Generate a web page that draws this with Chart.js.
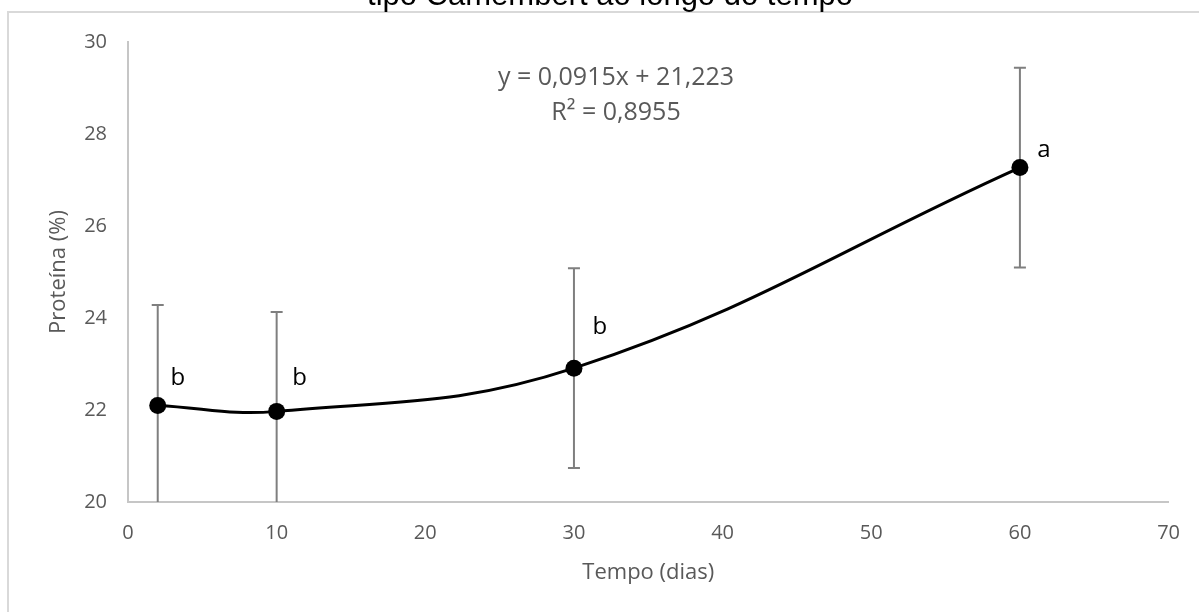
<!DOCTYPE html>
<html>
<head>
<meta charset="utf-8">
<script src="https://cdn.jsdelivr.net/npm/chart.js@4.4.1/dist/chart.umd.min.js"></script>
<style>
  html, body { margin: 0; padding: 0; background: #ffffff; }
  canvas { display: block; }
</style>
</head>
<body>
<canvas id="c" width="1199" height="612"></canvas>
<script>
// ---- data ----
const titleText = 'tipo Camembert ao longo do tempo';
const days = [2, 10, 30, 60];
const protein = [22.1, 21.97, 22.91, 27.27];
const errors = [2.18, 2.16, 2.17, 2.17];
const letters = ['b', 'b', 'b', 'a'];
const equationLines = ['y = 0,0915x + 21,223', 'R² = 0,8955'];
const xAxisTitle = 'Tempo (dias)';
const yAxisTitle = 'Proteína (%)';

// ---- styling (pixel offsets for the letter labels) ----
const letterOffsets = [[20, -27], [23, -33], [26, -41], [24, -17]];

const grayText = '#595959';

const decorPlugin = {
  id: 'decor',
  beforeDraw(chart) {
    const ctx = chart.ctx;
    ctx.save();
    ctx.fillStyle = '#ffffff';
    ctx.fillRect(0, 0, chart.width, chart.height);
    // outer chart border
    ctx.strokeStyle = '#d9d9d9';
    ctx.lineWidth = 2;
    ctx.beginPath();
    ctx.moveTo(8, chart.height + 5);
    ctx.lineTo(8, 12);
    ctx.lineTo(chart.width + 5, 12);
    ctx.stroke();
    // title (partially cut at the top)
    ctx.fillStyle = '#000000';
    ctx.font = '31px "Liberation Sans", Arial, sans-serif';
    ctx.textAlign = 'center';
    ctx.textBaseline = 'alphabetic';
    ctx.fillText(titleText, 610, 5);
    ctx.restore();
  },
  beforeDatasetsDraw(chart) {
    const ctx = chart.ctx;
    const xs = chart.scales.x, ys = chart.scales.y;
    const area = chart.chartArea;
    ctx.save();
    ctx.beginPath();
    ctx.rect(area.left, area.top - 2, area.right - area.left, area.bottom - area.top + 2);
    ctx.clip();
    ctx.strokeStyle = '#7f7f7f';
    ctx.lineWidth = 2;
    days.forEach((d, i) => {
      const x = xs.getPixelForValue(d);
      const yt = ys.getPixelForValue(protein[i] + errors[i]);
      const yb = ys.getPixelForValue(protein[i] - errors[i]);
      ctx.beginPath();
      ctx.moveTo(x, yt);
      ctx.lineTo(x, yb);
      ctx.moveTo(x - 6, yt);
      ctx.lineTo(x + 6, yt);
      ctx.moveTo(x - 6, yb);
      ctx.lineTo(x + 6, yb);
      ctx.stroke();
    });
    ctx.restore();
  },
  afterDatasetsDraw(chart) {
    const ctx = chart.ctx;
    const xs = chart.scales.x, ys = chart.scales.y;
    ctx.save();
    ctx.fillStyle = '#000000';
    ctx.font = '24px "Open Sans", sans-serif';
    ctx.textAlign = 'center';
    ctx.textBaseline = 'middle';
    days.forEach((d, i) => {
      const x = xs.getPixelForValue(d) + letterOffsets[i][0];
      const y = ys.getPixelForValue(protein[i]) + letterOffsets[i][1];
      ctx.fillText(letters[i], x, y);
    });
    // trendline equation
    ctx.fillStyle = grayText;
    ctx.font = '25px "Open Sans", sans-serif';
    ctx.fillText(equationLines[0], 616, 78);
    ctx.fillText(equationLines[1], 616, 113);
    ctx.restore();
  }
};

new Chart(document.getElementById('c'), {
  type: 'line',
  data: {
    datasets: [{
      data: days.map((d, i) => ({ x: d, y: protein[i] })),
      borderColor: '#000000',
      backgroundColor: '#000000',
      borderWidth: 3,
      tension: 0.4,
      pointRadius: 8.5,
      pointHoverRadius: 8.5,
      pointBackgroundColor: '#000000',
      pointBorderColor: '#000000',
      pointBorderWidth: 0,
      fill: false,
      clip: false
    }]
  },
  options: {
    responsive: false,
    devicePixelRatio: 1,
    animation: false,
    layout: { padding: { left: 10, right: 29, top: 42, bottom: 0 } },
    plugins: {
      legend: { display: false },
      tooltip: { enabled: false },
      title: { display: false }
    },
    scales: {
      x: {
        type: 'linear',
        min: 0, max: 70,
        ticks: { stepSize: 10, color: grayText, font: { family: '"Open Sans", sans-serif', size: 20 }, padding: 19, maxRotation: 0 },
        grid: { display: true, drawOnChartArea: false, drawTicks: false },
        border: { display: true, color: '#c6c6c6', width: 2 },
        title: { display: true, text: xAxisTitle, color: grayText, font: { family: '"Open Sans", sans-serif', size: 22 }, padding: { top: 0, bottom: 26 } },
        afterFit(scale) { scale.height = 110; }
      },
      y: {
        min: 20, max: 30,
        ticks: { stepSize: 2, color: grayText, font: { family: '"Open Sans", sans-serif', size: 20 }, padding: 21 },
        grid: { display: true, drawOnChartArea: false, drawTicks: false },
        border: { display: true, color: '#c6c6c6', width: 2 },
        title: { display: true, text: yAxisTitle, color: grayText, font: { family: '"Open Sans", sans-serif', size: 22 }, padding: { top: 36, bottom: 0 } },
        afterFit(scale) { scale.width = 118; }
      }
    }
  },
  plugins: [decorPlugin]
});
</script>
</body>
</html>
